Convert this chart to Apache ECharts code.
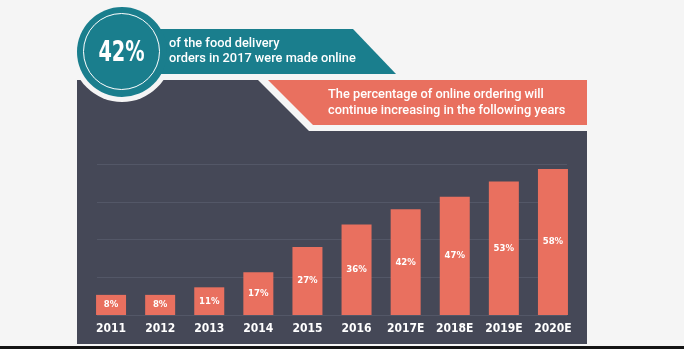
<!DOCTYPE html>
<html>
<head>
<meta charset="utf-8">
<script src="https://cdn.jsdelivr.net/npm/echarts@6/dist/echarts.min.js"></script>
<style>
  html, body { margin: 0; padding: 0; background: #f5f5f5; }
  #chart { width: 684px; height: 349px; }
</style>
</head>
<body>
<div id="chart"></div>
<script>
// Share of food delivery orders placed online, by year (E = estimate)
const years = ['2011', '2012', '2013', '2014', '2015', '2016', '2017E', '2018E', '2019E', '2020E'];
const onlineShare = [8, 8, 11, 17, 27, 36, 42, 47, 53, 58];

const headline = '42%';
const headlineText = 'of the food delivery\norders in 2017 were made online';
const trendText = 'The percentage of online ordering will\ncontinue increasing in the following years';

const TEAL = '#1a7e8d';
const SALMON = '#e9705f';
const PANEL = '#454857';
const GRIDLINE = '#535767';
const PAGE = '#f5f5f5';
const NARROW = "'DejaVu Sans Condensed', 'Liberation Sans Narrow', sans-serif";

const chart = echarts.init(document.getElementById('chart'), null, { renderer: 'canvas' });

chart.setOption({
  backgroundColor: PAGE,
  animation: false,
  graphic: [
    // dark chart panel with notch next to the trend banner
    { type: 'polygon', silent: true, z: -20,
      shape: { points: [[77, 80], [258, 80], [309, 131], [587, 131], [587, 344], [77, 344]] },
      style: { fill: PANEL } },
    // light halo separating the badge from the panel
    { type: 'circle', silent: true, z: -19,
      shape: { cx: 122, cy: 52, r: 50 }, style: { fill: PAGE } },
    // teal headline banner
    { type: 'polygon', silent: true, z: -18,
      shape: { points: [[122, 29], [353, 29], [396, 74], [122, 74]] },
      style: { fill: TEAL } },
    // badge
    { type: 'circle', silent: true, z: -17,
      shape: { cx: 122, cy: 52, r: 45 }, style: { fill: TEAL } },
    { type: 'circle', silent: true, z: -16,
      shape: { cx: 121.5, cy: 51.5, r: 38 },
      style: { fill: 'none', stroke: '#ffffff', lineWidth: 1 } },
    // salmon trend banner
    { type: 'polygon', silent: true, z: -18,
      shape: { points: [[268, 80], [587, 80], [587, 125], [313, 125]] },
      style: { fill: SALMON } },
    // bottom rule
    { type: 'rect', silent: true, z: -18,
      shape: { x: 0, y: 346, width: 684, height: 3 }, style: { fill: '#141414' } },
    // texts
    { type: 'text', silent: true, z: 10, x: 121.5, y: 53, scaleX: 0.74,
      style: { text: headline, x: 0, y: 0, align: 'center', verticalAlign: 'middle',
               font: 'bold 29px ' + NARROW, fill: '#ffffff' } },
    { type: 'text', silent: true, z: 10,
      style: { text: headlineText, x: 169, y: 51.5, align: 'left', verticalAlign: 'middle',
               font: '500 12.8px Roboto, sans-serif', lineHeight: 15, fill: '#ffffff' } },
    { type: 'text', silent: true, z: 10,
      style: { text: trendText, x: 328, y: 103, align: 'left', verticalAlign: 'middle',
               font: '500 12.8px Roboto, sans-serif', lineHeight: 16, fill: '#ffffff' } }
  ],
  grid: [
    { left: 86.5, right: 106.5, top: 164, bottom: 34 },
    { left: 97, right: 117, top: 164, bottom: 34 }
  ],
  xAxis: [
    { type: 'category', gridIndex: 0, data: years,
      axisLine: { show: false }, axisTick: { show: false },
      axisLabel: { color: '#ffffff', fontFamily: NARROW, fontWeight: 'bold', fontSize: 12, margin: 8 } },
    { type: 'value', gridIndex: 1, min: 0, max: 1, show: false }
  ],
  yAxis: [
    { type: 'value', gridIndex: 0, min: 0, max: 60, interval: 15,
      axisLabel: { show: false }, axisLine: { show: false }, axisTick: { show: false },
      splitLine: { show: false } },
    { type: 'value', gridIndex: 1, min: 0, max: 60, interval: 15,
      axisLabel: { show: false }, axisLine: { show: false }, axisTick: { show: false },
      splitLine: { show: true, lineStyle: { color: GRIDLINE, width: 1 } } }
  ],
  series: [
    { type: 'bar', xAxisIndex: 0, yAxisIndex: 0, data: onlineShare, barWidth: 30,
      itemStyle: { color: SALMON },
      label: { show: true, position: 'inside', formatter: '{c}%', color: '#ffffff',
               fontFamily: NARROW, fontWeight: 'bold', fontSize: 9.5 } },
    { type: 'line', xAxisIndex: 1, yAxisIndex: 1, data: [], silent: true }
  ]
});
</script>
</body>
</html>
